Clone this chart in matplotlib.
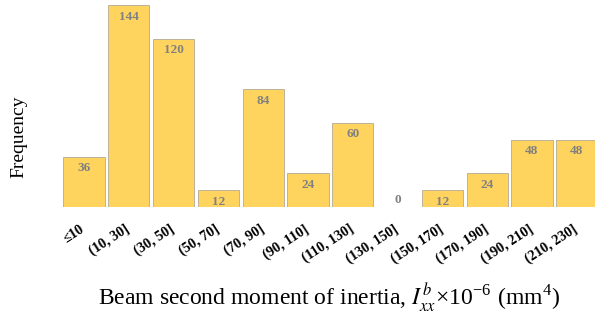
import matplotlib
matplotlib.use("Agg")
import matplotlib.pyplot as plt
import matplotlib.transforms as mtransforms

plt.rcParams['font.family'] = ['Liberation Serif', 'DejaVu Serif']
plt.rcParams['mathtext.fontset'] = 'stix'

categories = ['≤10', '(10, 30]', '(30, 50]', '(50, 70]', '(70, 90]', '(90, 110]',
              '(110, 130]', '(130, 150]', '(150, 170]', '(170, 190]', '(190, 210]', '(210, 230]']
values = [36, 144, 120, 12, 84, 24, 60, 0, 12, 24, 48, 48]

fig = plt.figure(figsize=(5.95, 3.22), dpi=100)
ax = fig.add_axes([0.1035, 0.357, 0.9035, 0.64])
x = list(range(len(categories)))
ax.bar(x, values, width=0.92, color='#FFD45E', edgecolor='#BDB39A', linewidth=0.7)
for xi, v in zip(x, values):
    if v > 0:
        ax.annotate(str(v), (xi, v), xytext=(0, -4), textcoords='offset points',
                    ha='center', va='top', fontsize=9.5, fontweight='bold', color='#808080')
    else:
        ax.annotate(str(v), (xi, 0), xytext=(0, 1), textcoords='offset points',
                    ha='center', va='bottom', fontsize=9.5, fontweight='bold', color='#808080')

ax.set_xlim(-0.5, 11.5)
ax.set_ylim(0, 147)
ax.set_xticks(x)
ax.set_xticklabels(categories, rotation=33, ha='right', rotation_mode='anchor',
                   fontsize=10.3, fontweight='bold')
ax.tick_params(axis='x', length=0, pad=11)
shift = mtransforms.ScaledTranslation(-4 / 100, 0, fig.dpi_scale_trans)
for lbl in ax.get_xticklabels():
    lbl.set_transform(lbl.get_transform() + shift)
ax.set_yticks([])
for s in ax.spines.values():
    s.set_visible(False)

fig.text(0.031, 0.575, 'Frequency', rotation=90, ha='center', va='center', fontsize=14)
fig.text(0.553, 0.075, r'Beam second moment of inertia, $I_{xx}^{b}$×10$^{\mathregular{-6}}$ (mm$^{\mathregular{4}}$)',
         ha='center', va='center', fontsize=17)

fig.savefig('out.png', dpi=100)
